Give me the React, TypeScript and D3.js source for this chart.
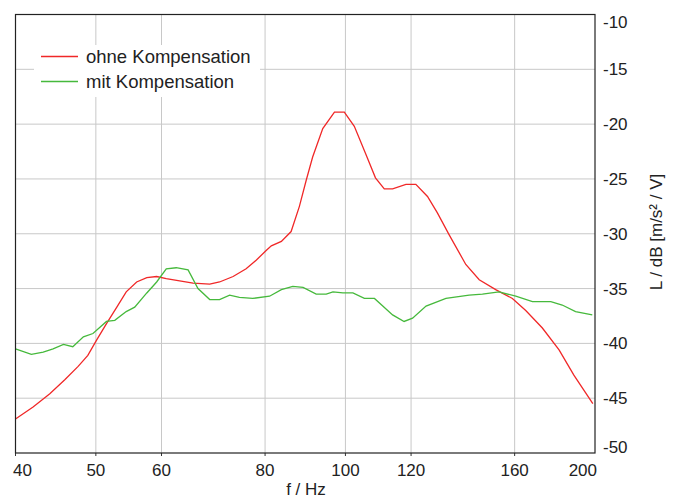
import React, { useEffect, useRef } from 'react'
import * as d3 from 'd3'

// frequency in Hz, level in dB
const ohneFreq = [40.0, 42.0, 44.0, 45.9, 47.6, 48.9, 50.1, 51.5, 53.0, 54.4, 56.0, 57.6, 59.2, 60.8, 63.1, 65.5, 68.6, 70.5, 73.2, 75.9, 78.1, 80.3, 81.4, 83.7, 86.0, 88.0, 89.7, 91.3, 93.9, 97.0, 99.7, 102.5, 105.9, 108.7, 111.4, 114.0, 118.3, 121.6, 125.6, 129.1, 133.4, 139.7, 145.0, 151.8, 159.0, 165.0, 172.8, 181.0, 188.6, 198.8]
const ohneLevel = [-46.9, -45.8, -44.6, -43.3, -42.1, -41.1, -39.7, -38.2, -36.7, -35.3, -34.4, -34.0, -33.9, -34.1, -34.3, -34.5, -34.6, -34.4, -33.9, -33.2, -32.4, -31.5, -31.1, -30.7, -29.8, -27.5, -25.1, -23.0, -20.4, -18.9, -18.9, -20.2, -22.8, -24.9, -25.9, -25.9, -25.5, -25.5, -26.6, -28.1, -30.1, -32.8, -34.2, -35.1, -35.9, -37.0, -38.6, -40.6, -42.9, -45.5]

const mitFreq = [40.0, 41.8, 43.2, 44.4, 45.7, 46.9, 48.3, 49.6, 51.5, 52.7, 54.4, 55.7, 57.6, 59.2, 60.8, 62.5, 64.6, 66.4, 68.6, 70.5, 72.5, 74.5, 77.3, 81.0, 83.7, 86.4, 88.9, 92.2, 94.8, 96.6, 99.3, 102.1, 105.4, 108.4, 114.0, 117.7, 120.5, 125.1, 132.2, 141.0, 146.3, 153.2, 160.5, 168.1, 176.9, 182.6, 189.5, 198.5]
const mitLevel = [-40.5, -41.0, -40.8, -40.5, -40.1, -40.3, -39.4, -39.1, -38.0, -37.9, -37.1, -36.7, -35.4, -34.4, -33.2, -33.1, -33.3, -35.0, -36.0, -36.0, -35.6, -35.8, -35.9, -35.7, -35.1, -34.8, -34.9, -35.5, -35.5, -35.3, -35.4, -35.4, -35.9, -35.9, -37.4, -38.0, -37.7, -36.6, -35.9, -35.6, -35.5, -35.3, -35.7, -36.2, -36.2, -36.5, -37.1, -37.4]

const xTicks = [40, 50, 60, 80, 100, 120, 160, 200]
const yTicks = [-10, -15, -20, -25, -30, -35, -40, -45, -50]
const seriesNames = ['ohne Kompensation', 'mit Kompensation']
const seriesColors = ['#f02828', '#46b93c']

const width = 675
const height = 498

const App = () => {
  const ref = useRef<SVGSVGElement>(null)

  useEffect(() => {
    const svg = d3.select(ref.current)
    svg.selectAll('*').remove()

    const left = 15.5, right = 595, top = 14.5, bottom = 453
    const font = 'Arial, "Liberation Sans", sans-serif'

    const x = d3.scaleLog().domain([40, 200]).range([left, right])
    const y = d3.scaleLinear().domain([-50, -10]).range([bottom, top])

    svg.append('rect').attr('width', width).attr('height', height).attr('fill', '#fff')

    const grid = svg.append('g').attr('stroke', '#c8c8c8').attr('stroke-width', 1)
    grid.selectAll('line.v')
      .data(xTicks.slice(1, -1))
      .enter()
      .append('line')
      .attr('x1', d => x(d)).attr('x2', d => x(d))
      .attr('y1', top).attr('y2', bottom)
    grid.selectAll('line.h')
      .data(yTicks.slice(1, -1))
      .enter()
      .append('line')
      .attr('x1', left).attr('x2', right)
      .attr('y1', d => y(d)).attr('y2', d => y(d))

    // bottom tick marks
    svg.append('g')
      .selectAll('line')
      .data(xTicks.slice(0, -1))
      .enter()
      .append('line')
      .attr('x1', d => x(d)).attr('x2', d => x(d))
      .attr('y1', bottom).attr('y2', bottom + 3)
      .attr('stroke', '#333')

    const clip = svg.append('clipPath').attr('id', 'plotclip')
    clip.append('rect').attr('x', left).attr('y', top).attr('width', right - left).attr('height', bottom - top)

    const line = d3.line<[number, number]>()
      .x(d => x(d[0]))
      .y(d => y(d[1]))

    const series = [
      d3.zip(ohneFreq, ohneLevel) as [number, number][],
      d3.zip(mitFreq, mitLevel) as [number, number][],
    ]

    // legend background
    svg.append('rect')
      .attr('x', 34).attr('y', 45).attr('width', 226).attr('height', 52)
      .attr('fill', '#fff')

    svg.append('g')
      .attr('clip-path', 'url(#plotclip)')
      .selectAll('path')
      .data(series)
      .enter()
      .append('path')
      .attr('d', d => line(d))
      .attr('fill', 'none')
      .attr('stroke', (d, i) => seriesColors[i])
      .attr('stroke-width', 1.3)

    svg.append('rect')
      .attr('x', left).attr('y', top)
      .attr('width', right - left).attr('height', bottom - top)
      .attr('fill', 'none').attr('stroke', '#222').attr('stroke-width', 1.2)

    // legend
    const legend = svg.append('g')
    seriesNames.forEach((name, i) => {
      const ly = 56.5 + i * 25
      legend.append('line')
        .attr('x1', 41).attr('x2', 78).attr('y1', ly).attr('y2', ly)
        .attr('stroke', seriesColors[i]).attr('stroke-width', 1.3)
      legend.append('text')
        .attr('x', 86).attr('y', ly + 6.5)
        .attr('font-family', font).attr('font-size', 18.5)
        .attr('fill', '#222')
        .text(name)
    })

    // x labels
    svg.append('g')
      .selectAll('text')
      .data(xTicks)
      .enter()
      .append('text')
      .attr('x', (d, i) => i === 0 ? x(d) - 2.5 : i === xTicks.length - 1 ? right + 2 : x(d))
      .attr('y', 476)
      .attr('text-anchor', (d, i) => i === 0 ? 'start' : i === xTicks.length - 1 ? 'end' : 'middle')
      .attr('font-family', font).attr('font-size', 17)
      .attr('fill', '#222')
      .text(d => d)

    // y labels
    svg.append('g')
      .selectAll('text')
      .data(yTicks)
      .enter()
      .append('text')
      .attr('x', 603)
      .attr('y', (d, i) => i === 0 ? y(d) + 7 + 6 : i === yTicks.length - 1 ? y(d) + 6 - 6 : y(d) + 6)
      .attr('font-family', font).attr('font-size', 17)
      .attr('fill', '#222')
      .text(d => d)

    svg.append('text')
      .attr('x', 306).attr('y', 495)
      .attr('text-anchor', 'middle')
      .attr('font-family', font).attr('font-size', 17)
      .attr('fill', '#222')
      .text('f / Hz')

    svg.append('text')
      .attr('transform', 'translate(662,232) rotate(-90)')
      .attr('text-anchor', 'middle')
      .attr('font-family', font).attr('font-size', 17)
      .attr('fill', '#222')
      .text('L / dB [m/s² / V]')
  }, [])

  return (
    <svg ref={ref} width={width} height={height} style={{ position: 'absolute', left: 0, top: 0 }} />
  )
}

export default App
